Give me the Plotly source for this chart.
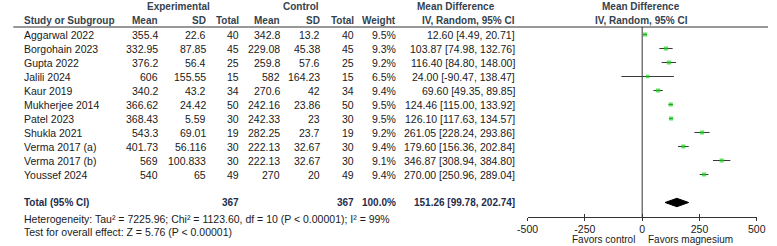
import plotly.graph_objects as go

studies = ["Aggarwal 2022", "Borgohain 2023", "Gupta 2022", "Jalili 2024", "Kaur 2019",
           "Mukherjee 2014", "Patel 2023", "Shukla 2021", "Verma 2017 (a)", "Verma 2017 (b)",
           "Youssef 2024"]
exp_mean = ["355.4", "332.95", "376.2", "606", "340.2", "366.62", "368.43", "543.3", "401.73", "569", "540"]
exp_sd = ["22.6", "87.85", "56.4", "155.55", "43.2", "24.42", "5.59", "69.01", "56.116", "100.833", "65"]
exp_n = [40, 45, 25, 15, 34, 50, 30, 19, 30, 30, 49]
ctl_mean = ["342.8", "229.08", "259.8", "582", "270.6", "242.16", "242.33", "282.25", "222.13", "222.13", "270"]
ctl_sd = ["13.2", "45.38", "57.6", "164.23", "42", "23.86", "23", "23.7", "32.67", "32.67", "20"]
ctl_n = [40, 45, 25, 15, 34, 50, 30, 19, 30, 30, 49]
weights = [9.5, 9.3, 9.2, 6.5, 9.4, 9.5, 9.5, 9.2, 9.4, 9.1, 9.4]
md = [12.60, 103.87, 116.40, 24.00, 69.60, 124.46, 126.10, 261.05, 179.60, 346.87, 270.00]
lo = [4.49, 74.98, 84.80, -90.47, 49.35, 115.00, 117.63, 228.24, 156.36, 308.94, 250.96]
hi = [20.71, 132.76, 148.00, 138.47, 89.85, 133.92, 134.57, 293.86, 202.84, 384.80, 289.04]
total_exp_n = 367
total_ctl_n = 367
total_md, total_lo, total_hi = 151.26, 99.78, 202.74
heterogeneity = "Heterogeneity: Tau² = 7225.96; Chi² = 1123.60, df = 10 (P < 0.00001); I² = 99%"
overall = "Test for overall effect: Z = 5.76 (P < 0.00001)"
xticks = [-500, -250, 0, 250, 500]
xticklabels = ["-500", "-250", "0", "250", "500"]

W, H = 777, 246
ROW0, ROWH = 34.5, 14.0      # pixel y of first row, row spacing
AXIS_PX = 217.0              # pixel y of the forest x-axis line
HDR_LINE_PX = 27.0
FONT = "Liberation Sans, Arial, sans-serif"
TXT = "#1a1a1a"
HDR = "#34424f"
TOT = "#1f2d4d"
FS = 10.5

def py(px):
    return 1 - px / H

def px2row(px):
    return (px - ROW0) / ROWH

fig = go.Figure()

# CI lines
cx, cy = [], []
for i in range(len(studies)):
    cx += [lo[i], hi[i], None]
    cy += [i, i, None]
fig.add_trace(go.Scatter(x=cx, y=cy, mode="lines", line=dict(color="#3a3a3a", width=1),
                         hoverinfo="skip", showlegend=False))
# squares
fig.add_trace(go.Scatter(x=md, y=list(range(len(studies))), mode="markers",
                         marker=dict(symbol="square", color="#19d419",
                                     size=[2.3 + w * 0.2 for w in weights], line=dict(width=0)),
                         showlegend=False))
# diamond
trow = len(studies) + 1
dh = 0.3
fig.add_trace(go.Scatter(x=[total_lo, total_md, total_hi, total_md, total_lo],
                         y=[trow, trow - dh, trow, trow + dh, trow],
                         mode="lines", fill="toself", fillcolor="black",
                         line=dict(color="black", width=1), showlegend=False))

x0px, x1px = 530.2, 765.5
dom = [x0px / W, x1px / W]
fig.update_layout(
    width=W, height=H, margin=dict(l=0, r=0, t=0, b=0),
    paper_bgcolor="white", plot_bgcolor="white",
    font=dict(family=FONT, size=FS, color=TXT),
    xaxis=dict(domain=dom, range=[-500, 500], tickvals=xticks, ticktext=xticklabels,
               ticks="outside", ticklen=3, ticklabelstandoff=-1,
               tickcolor="#333", showline=True, linecolor="#333", linewidth=1,
               showgrid=False, zeroline=False, tickfont=dict(size=10.5, color=TXT)),
    xaxis2=dict(domain=dom, range=[-500, 500], tickvals=xticks, ticks="inside", ticklen=3,
                tickcolor="#333", showticklabels=False, overlaying="x", anchor="y",
                side="bottom", showgrid=False, zeroline=False),
    yaxis=dict(domain=[py(AXIS_PX), 1], range=[px2row(AXIS_PX), px2row(0)],
               visible=False, showgrid=False, zeroline=False),
)
fig.add_trace(go.Scatter(x=[None], y=[None], xaxis="x2", showlegend=False))

shapes = [
    dict(type="line", xref="paper", yref="paper", x0=0.003, x1=1, y0=py(HDR_LINE_PX), y1=py(HDR_LINE_PX),
         line=dict(color="#333", width=1.2)),
    dict(type="line", xref="x", yref="paper", x0=0, x1=0, y0=py(AXIS_PX), y1=py(HDR_LINE_PX),
         line=dict(color="#333", width=1)),
]
fig.update_layout(shapes=shapes)

ann = []
def txt(x, ypx, s, anchor="right", color=TXT, bold=False, size=FS):
    if bold:
        s = "<b>" + s + "</b>"
    ann.append(dict(x=x / W, y=py(ypx), xref="paper", yref="paper", text=s, showarrow=False,
                    xanchor=anchor, yanchor="middle", font=dict(color=color, size=size)))

# headers
HB = 10
txt(172, 7, "Experimental", "center", HDR, True, HB)
txt(298, 7, "Control", "center", HDR, True, HB)
txt(457, 7, "Mean Difference", "center", HDR, True, HB)
txt(647, 7, "Mean Difference", "center", HDR, True, HB)
txt(11, 20, "Study or Subgroup", "left", HDR, True, HB)
txt(153, 20, "Mean", "right", HDR, True, HB)
txt(202, 20, "SD", "right", HDR, True, HB)
txt(236, 20, "Total", "right", HDR, True, HB)
txt(278, 20, "Mean", "right", HDR, True, HB)
txt(319, 20, "SD", "right", HDR, True, HB)
txt(354, 20, "Total", "right", HDR, True, HB)
txt(397, 20, "Weight", "right", HDR, True, HB)
txt(519, 20, "IV, Random, 95% CI", "right", HDR, True, HB)
txt(647, 20, "IV, Random, 95% CI", "center", HDR, True, HB)

for i in range(len(studies)):
    y = ROW0 + ROWH * i
    txt(11, y, studies[i], "left")
    txt(153, y, exp_mean[i])
    txt(202, y, exp_sd[i])
    txt(236, y, str(exp_n[i]))
    txt(278, y, ctl_mean[i])
    txt(319, y, ctl_sd[i])
    txt(354, y, str(ctl_n[i]))
    txt(397, y, f"{weights[i]:.1f}%")
    txt(519, y, f"{md[i]:.2f} [{lo[i]:.2f}, {hi[i]:.2f}]")

ty = ROW0 + ROWH * trow
txt(11, ty, "Total (95% CI)", "left", TOT, True, HB)
txt(236, ty, str(total_exp_n), "right", TOT, True, HB)
txt(354, ty, str(total_ctl_n), "right", TOT, True, HB)
txt(397, ty, f"{sum(weights):.1f}%", "right", TOT, True, HB)
txt(519, ty, f"{total_md:.2f} [{total_lo:.2f}, {total_hi:.2f}]", "right", TOT, True, HB)
txt(11, 219, heterogeneity, "left")
txt(11, 232, overall, "left")
txt(643, 239.5, "Favors control", "right", size=10)
txt(652, 239.5, "Favors magnesium", "left", size=10)

fig.update_layout(annotations=ann)
fig.write_html("out.html")
